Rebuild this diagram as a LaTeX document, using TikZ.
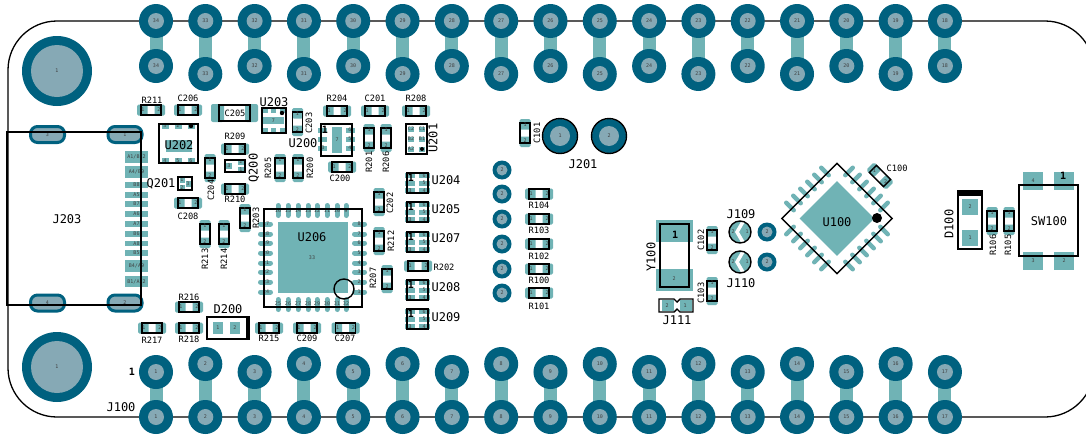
\documentclass[tikz,border=0pt]{standalone}
\usepackage{fontspec}
\setmainfont{DejaVu Sans Mono}
\definecolor{ringblue}{HTML}{00617F}
\definecolor{holegrey}{HTML}{86A9B5}
\definecolor{smdteal}{HTML}{70B3B5}
\tikzset{
  outline/.style={draw=black,line width=1.4pt},
  boardedge/.style={draw=black,line width=1.3pt},
  padfill/.style={fill=smdteal,draw=none},
  pinline/.style={draw=smdteal,line width=5pt,line cap=round},
  padnum/.style={font=\fontsize{5}{5}\selectfont,text=black!75,inner sep=0pt},
  smalllbl/.style={font=\fontsize{8.7}{9}\selectfont,inner sep=0pt},
  biglbl/.style={font=\fontsize{12}{12}\selectfont,inner sep=0pt},
  pinmark/.style={font=\bfseries\fontsize{10}{10}\selectfont,inner sep=0pt}
}
\newcommand{\thpin}[6]{
  \fill[ringblue] (#2,#3) circle (#5);
  \fill[holegrey] (#2,#3) circle (#6);
  \node[padnum] (#1) at (#2,#3) {#4};
}
\newcommand{\chip}[4]{
  \begin{scope}[shift={(#2,#3)},rotate=#4]
    \fill[padfill,rounded corners=1.5pt] (-14,-5.5) rectangle (-3.5,5.5);
    \fill[padfill,rounded corners=1.5pt] (3.5,-5.5) rectangle (14,5.5);
    \draw[outline] (-10,-5) rectangle (10,5);
    \node[padnum] (#1a) at (-8,0) {1};
    \node[padnum] (#1b) at (8,0) {2};
  \end{scope}
}
\newcommand{\sixpin}[3]{
  \foreach \r in {-7.5,0,7.5} {
    \fill[padfill] (#2-12,#3+\r-2.5) rectangle (#2-2,#3+\r+2.5);
    \fill[padfill] (#2+2,#3+\r-2.5) rectangle (#2+13,#3+\r+2.5);
  }
  \node[padnum] (#1l3) at (#2-7,#3+7.5) {3};
  \foreach \r/\b in {-7.5/6,0/5,7.5/4}
    {\node[padnum] (#1r\b) at (#2+7,#3+\r) {\b};}
  \draw[outline] (#2-10,#3-10) rectangle (#2+11,#3+10);
  \node[pinmark] (#1m) at (#2-6,#3-5) {1};
}
\newcommand{\bridgepad}[3]{
  \begin{scope}
    \clip (#2,#3) circle (11);
    \fill[padfill] (#2,#3) circle (11);
    \draw[white,line width=3.5pt] (#2+4,#3-12) -- (#2-3,#3) -- (#2+4,#3+12);
  \end{scope}
  \draw[outline] (#2,#3) circle (11);
  \node[padnum] (#1b) at (#2-7,#3) {2};
  \node[padnum] (#1a) at (#2+7,#3) {1};
}
\begin{document}
\begin{tikzpicture}[x=1pt,y=-1pt]
  \useasboundingbox (0,0) rectangle (1086,434);
  \clip (0,0) rectangle (1086,434);

  \draw[boardedge,rounded corners=49pt] (8,21) rectangle (1094,417);

  % header rows
  \foreach \n [count=\i from 0] in {34,33,...,18} {
    \pgfmathsetmacro{\xp}{156+49.31*\i}
    \pgfmathsetmacro{\yp}{mod(\i,2)==1 ? 74 : 66}
    \fill[padfill] (\xp-6.5,21) rectangle (\xp+6.5,\yp);
    \thpin{topa\n}{\xp}{21}{\n}{17}{8}
    \thpin{topb\n}{\xp}{\yp}{\n}{17}{8}
  }
  \foreach \n [count=\i from 0] in {1,2,...,17} {
    \pgfmathsetmacro{\xp}{156+49.31*\i}
    \pgfmathsetmacro{\yp}{mod(\i,2)==1 ? 364 : 372}
    \fill[padfill] (\xp-6.5,\yp) rectangle (\xp+6.5,417);
    \thpin{bota\n}{\xp}{417}{\n}{17}{8}
    \thpin{botb\n}{\xp}{\yp}{\n}{17}{8}
  }

  \thpin{mounta}{57}{71}{1}{35}{26}
  \thpin{mountb}{57}{367}{1}{35}{26}

  % usb connector
  \foreach \m/\n/\ya/\yb in {a/A1\slash B12/151/163,b/A4\slash B9/166/178,c/B8/182/188,d/A5/192/198,
      e/B7/201/207,f/A6/211/217,g/A7/221/227,h/B6/231/237,i/A8/241/246,j/B5/250/256,
      k/B4\slash A9/260/272,l/B1\slash A12/276/287} {
    \fill[padfill] (125,\ya) rectangle (148,\yb);
    \node[padnum] (usb\m) at (136.5,{(\ya+\yb)/2}) {\n};
  }
  \foreach \m/\x/\y/\n in {a/47.5/134.5/3,b/125/134.5/1,c/47.5/303/4,d/125/303/2} {
    \draw[draw=ringblue,fill=holegrey,line width=3pt,rounded corners=7pt] (\x-17,\y-8) rectangle (\x+17,\y+8);
    \node[padnum] (oval\m) at (\x,\y) {\n};
  }
  \draw[outline,line width=1.8pt] (7,132) rectangle (141,305);

  % horizontal and vertical chips
  \foreach \n/\x/\y in {R211/151/110,C206/188/110,C208/188/203,R209/235/149,R210/235/189,
      R204/337/111,C201/375/111,R208/416/111,C200/342/167,R216/189/307,R218/189/328,R217/152/328,
      R215/269/328,C209/307/328,C207/345.5/328,R202/418/266,R104/539/194,R103/539/219,
      R102/539/244,R100/539/269,R101/539/293}
    {\chip{\n}{\x}{\y}{0}}
  \foreach \n/\x/\y in {C204/210/168,C203/297.5/122,R205/280/168,R200/298/168,R201/369/138,
      R206/386/138,C202/379/202,R212/379/241,R207/387/279,R203/245/218,R213/205/234,R214/224/234,
      C101/525/133,C102/712/240,C103/712/291,R106/992/221,R105/1009/221}
    {\chip{\n}{\x}{\y}{-90}}
  \chip{C100}{880}{176}{-45}

  \fill[padfill,rounded corners=2pt] (211,104) rectangle (224,122);
  \fill[padfill,rounded corners=2pt] (245,104) rectangle (258,122);
  \draw[outline,line width=1.7pt] (219,105) rectangle (250,121);

  % U202
  \fill[padfill] (166,140) rectangle (192,152);
  \foreach \x/\a/\b in {165/3/4,178/2/5,191/1/6} {
    \fill[padfill] (\x-3.5,123) rectangle (\x+3.5,129);
    \fill[padfill] (\x-3.5,158) rectangle (\x+3.5,164);
    \node[padnum] (ubb\b) at (\x,161) {\b};
  }
  \node[padnum] (ubt3) at (165,126) {3};
  \node[padnum] (ubt2) at (178,126) {2};
  \fill (191,126) circle (2.2);
  \draw[outline] (159,124) rectangle (198,163);

  % Q200 and Q201
  \foreach \m/\x/\y/\n in {a/229/166/3,b/241/162/2,c/241/170/1} {
    \fill[padfill] (\x-3,\y-3) rectangle (\x+3,\y+3);
    \node[padnum] (qa\m) at (\x,\y) {\n};
  }
  \draw[outline] (225,160) rectangle (245,172);
  \foreach \m/\x/\y/\n in {a/182/180/1,b/182/188/2,c/188/184/3} {
    \fill[padfill] (\x-2.5,\y-3) rectangle (\x+2.5,\y+3);
    \node[padnum] (qb\m) at (\x,\y) {\n};
  }
  \draw[outline] (178,177) rectangle (192,190);

  % U203
  \fill[padfill] (263,117) rectangle (284,124);
  \foreach \x in {265,273.5,282} {
    \fill[padfill] (\x-2.5,109) rectangle (\x+2.5,113);
    \fill[padfill] (\x-2.5,128) rectangle (\x+2.5,132);
  }
  \node[padnum] (ucpad) at (273.5,120.5) {7};
  \fill (282,113) circle (2.2);
  \draw[outline] (262,108) rectangle (286,133);

  % U200
  \fill[padfill] (332,127) rectangle (342,153);
  \node[padnum] (uapad) at (337,140) {7};
  \foreach \y/\b in {130/6,139/5,148/4} {
    \fill[padfill] (318,\y-2.5) rectangle (327,\y+2.5);
    \fill[padfill] (346,\y-2.5) rectangle (355,\y+2.5);
    \node[padnum] (uar\b) at (350,\y) {\b};
  }
  \node[padnum] (ual3) at (323,148) {3};
  \draw[outline] (321,124) rectangle (352,156);
  \node[pinmark] (uamark) at (325,130) {1};

  % U201
  \foreach \m/\x/\y/\n in {a/411/129/C2,b/422/129/C1,c/411/139/B2,d/422/139/B1,e/411/149/A2} {
    \fill[padfill] (\x-3,\y-2.5) rectangle (\x+3,\y+2.5);
    \node[padnum] (ud\m) at (\x,\y) {\n};
  }
  \fill[padfill] (419,146.5) rectangle (425,151.5);
  \fill (422,149) circle (2);
  \draw[outline] (406,124) rectangle (427,154);

  % U204 to U209
  \sixpin{pa}{417}{183}
  \sixpin{pb}{417}{212}
  \sixpin{pc}{417}{242}
  \sixpin{pd}{417}{290}
  \sixpin{pe}{417}{319}

  % U206
  \fill[padfill] (278,222) rectangle (348,293);
  \node[padnum] (qfnpad) at (312,258) {33};
  \foreach \n/\m/\y in {8/17/224,7/18/234,6/19/243,5/20/253,4/21/263,3/22/272,2/23/282,1/24/292} {
    \draw[pinline] (260.5,\y) -- (270.5,\y);
    \draw[pinline] (354.5,\y) -- (364.5,\y);
    \node[padnum] (qfnl\m) at (266,\y) {\m};
    \node[padnum] (qfnr\n) at (359,\y) {\n};
  }
  \foreach \n/\m/\x in {16/25/278,15/26/288,14/27/298,13/28/308,12/29/317,11/30/327,10/31/337,9/32/346} {
    \draw[pinline] (\x,205.5) -- (\x,215.5);
    \draw[pinline] (\x,299.5) -- (\x,309.5);
    \node[padnum] (qfnt\n) at (\x,211) {\n};
    \node[padnum] (qfnb\m) at (\x,304) {\m};
  }
  \draw[outline] (264,209) rectangle (362,307);
  \draw[outline] (344,289) circle (10);

  % D200
  \foreach \m/\x/\n in {a/218/1,b/235/2} {
    \fill[padfill] (\x-5,322) rectangle (\x+5,334);
    \node[padnum] (dt\m) at (\x,328) {\n};
  }
  \draw[outline] (207,317) rectangle (247,339);
  \draw[outline] (249,316) -- (249,340);

  % antenna, test points
  \thpin{anta}{560}{136}{1}{17}{10}
  \thpin{antb}{609}{136}{2}{17}{10}
  \draw[outline] (560,136) circle (17.5);
  \draw[outline] (609,136) circle (17.5);
  \foreach \m/\y in {a/170,b/194,c/219,d/244,e/269,f/293}
    {\thpin{tp\m}{502}{\y}{2}{9.5}{5.5}}
  \thpin{tpg}{767}{232}{2}{9.5}{5.5}
  \thpin{tph}{767}{262}{2}{9.5}{5.5}

  % Y100
  \fill[padfill] (656,220) rectangle (693,242);
  \fill[padfill] (656,269) rectangle (693,291);
  \draw[outline] (660,224) rectangle (689,287);
  \node[pinmark] (ymark) at (675,235) {1};
  \node[padnum] (ypad) at (674,279) {2};

  % J111
  \fill[padfill] (662,300) rectangle (674,311);
  \fill[padfill] (680,300) rectangle (692,311);
  \draw[outline] (659,299) -- (674,299) -- (677,302) -- (680,299) -- (693,299) -- (693,312)
    -- (680,312) -- (677,309) -- (674,312) -- (659,312) -- cycle;
  \node[padnum] (jka) at (667,305.5) {2};
  \node[padnum] (jkb) at (685,305.5) {1};

  \bridgepad{jba}{740}{232}
  \bridgepad{jbb}{740}{262}

  % U100
  \begin{scope}[shift={(837,218.5)},rotate=45]
    \fill[padfill] (-26.5,-26.5) rectangle (26.5,26.5);
    \foreach \i in {-24.75,-14.85,-4.95,4.95,14.85,24.75} {
      \draw[pinline,line width=4.5pt] (\i,36.5) -- (\i,47);
      \draw[pinline,line width=4.5pt] (\i,-36.5) -- (\i,-47);
      \draw[pinline,line width=4.5pt] (36.5,\i) -- (47,\i);
      \draw[pinline,line width=4.5pt] (-36.5,\i) -- (-47,\i);
    }
    \draw[outline] (-39,-39) rectangle (39,39);
  \end{scope}
  \fill (877,218) circle (5);

  % D100
  \fill[padfill] (962,199) rectangle (978,215);
  \fill[padfill] (962,230) rectangle (978,246);
  \node[padnum] (lda) at (970,207) {2};
  \node[padnum] (ldb) at (970,238) {1};
  \fill (958,191) rectangle (982,196);
  \draw[outline] (958,191) rectangle (982,249);

  % SW100
  \foreach \x/\y in {1033/181,1064/181,1033/261,1064/261}
    {\fill[padfill] (\x-10,\y-9) rectangle (\x+10,\y+9);}
  \node[padnum] (swa) at (1033,181) {4};
  \node[padnum] (swc) at (1033,261) {3};
  \node[padnum] (swd) at (1064,261) {2};
  \draw[outline] (1019,185) rectangle (1078,256);
  \node[pinmark] (swmark) at (1063,176) {1};

  % big labels
  \foreach \n/\x/\y in {J203/67/219,U202/179/145,Q201/161/184,U203/274/102,
      U206/312/237,D200/228/309,J201/583/164,U200/303/143,U100/837/222,SW100/1049/221,J100/121/407,
      U204/446/180,U205/446/209,U207/446/238,U208/446/287,U209/446/317,J109/741/214,J110/741/283,J111/677/320}
    {\node[biglbl] (\n) at (\x,\y) {\n};}
  \foreach \n/\x/\y in {Q200/254/168,U201/433/138,Y100/651/257,D100/949/224}
    {\node[biglbl,rotate=90] (\n) at (\x,\y) {\n};}

  % small labels
  \foreach \n/\x/\y in {R211/152/100,C206/188/98,C205/235/113,R209/235/136,R210/235/199,C208/188/216,
      R204/337/98,C201/375/98,R208/416/98,C200/340/178,R216/189/297,R218/189/339,R217/152/340,
      R215/269/338,C209/307/338,C207/345/338,R202/444/267,R104/539/205,R103/539/230,R102/539/256,
      R100/539/280,R101/539/306,C100/897/168}
    {\node[smalllbl] (\n) at (\x,\y) {\n};}
  \foreach \n/\x/\y in {C204/211/190,C203/309/123,R205/268/168,R200/310/168,R201/369/162,R206/386/162,
      C202/390/203,R212/391/241,R207/373/278,R203/256/218,R213/205/259,R214/224/259,C101/537/133,
      C102/701/240,C103/701/293,R106/993/245,R105/1008/245}
    {\node[smalllbl,rotate=90] (\n) at (\x,\y) {\n};}

  \node[pinmark] (jmark) at (132,372) {1};
\end{tikzpicture}
\end{document}
